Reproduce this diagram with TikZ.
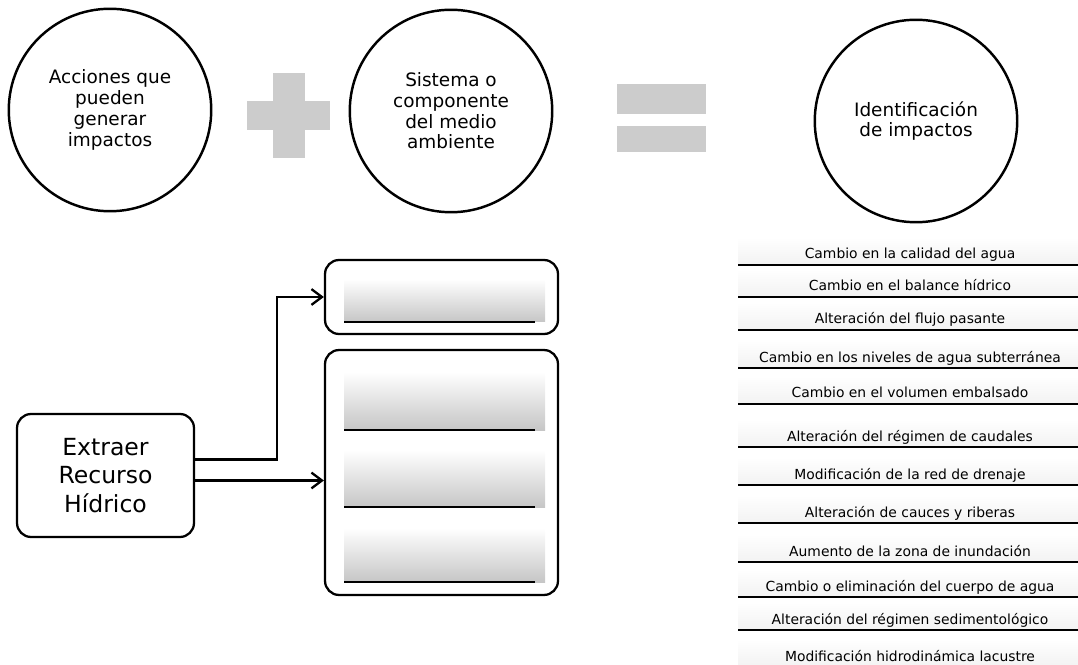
\documentclass[tikz,border=0pt]{standalone}
\usepackage{fontspec}
\setmainfont{DejaVu Sans}
\usetikzlibrary{positioning,arrows.meta}
\tikzset{
  circulo/.style={draw, circle, line width=1.4pt, minimum size=4.05cm, inner sep=0pt,
    align=center, font=\fontsize{10.5}{11.8}\selectfont},
  caja/.style={draw, rounded corners=8pt, line width=1.3pt},
  flecha/.style={-{Straight Barb[length=6pt,width=9pt]}, line width=1.3pt},
  franja/.style={top color=white, bottom color=gray!45, draw=none},
  fila/.style={top color=white, bottom color=gray!10, draw=none}
}
\begin{document}
\begin{tikzpicture}[x=0.02cm, y=-0.02cm]
    \useasboundingbox (0,0) rectangle (1078,665);
    % Circulos de la ecuacion
    \node[circulo] (acciones) at (110,110) {Acciones que\\pueden\\generar\\impactos};
    \node[circulo] (sistema) at (451,111) {Sistema o\\componente\\del medio\\ambiente};
    \node[circulo] (ident) at (916,121) {Identificación\\de impactos};
    % Signo mas
    \fill[gray!40] (273,73) rectangle (305,158);
    \fill[gray!40] (247,101) rectangle (330,130);
    % Signo igual
    \fill[gray!40] (617,84) rectangle (706,114);
    \fill[gray!40] (617,126) rectangle (706,152);
    % Accion
    \node[caja, minimum width=3.54cm, minimum height=2.46cm, align=center,
      font=\fontsize{13.4}{16.4}\selectfont] (extraer) at (105.5,475.5) {Extraer\\Recurso\\Hídrico};
    % Cajas de componentes
    \node[caja, minimum width=4.66cm, minimum height=1.48cm] (agua) at (441.5,297) {};
    \node[caja, minimum width=4.66cm, minimum height=4.9cm] (cuerpo) at (441.5,472.5) {};
    % Franjas dentro de las cajas
    \foreach \ya/\yb in {279/322, 372/430, 450/507, 528/582}{
        \shade[franja] (344,\ya) rectangle (545,\yb);
        \draw[line width=1.3pt] (344,\yb) -- (535,\yb);
    }
    % Conectores
    \draw[flecha] ([yshift=0.32cm]extraer.east) -- ++(82,0) |- (agua.west);
    \draw[flecha] ([yshift=-0.1cm]extraer.east) -- ([yshift=-0.1cm]extraer.east -| cuerpo.west);
    % Lista de impactos
    \foreach \y/\txt [count=\i] in {
        265/Cambio en la calidad del agua,
        297/Cambio en el balance hídrico,
        330/Alteración del flujo pasante,
        368/Cambio en los niveles de agua subterránea,
        404/Cambio en el volumen embalsado,
        447/Alteración del régimen de caudales,
        485/Modificación de la red de drenaje,
        523/Alteración de cauces y riberas,
        562/Aumento de la zona de inundación,
        597/Cambio o eliminación del cuerpo de agua,
        630/Alteración del régimen sedimentológico,
        667/Modificación hidrodinámica lacustre}{
        \shade[fila] (738,\y-28) rectangle (1078,\y);
        \node[anchor=base, font=\fontsize{7.9}{9}\selectfont, inner sep=0pt] (imp\i) at (910,\y-6) {\txt};
        \ifnum\i<12 \draw[line width=1.1pt] (738,\y) -- (1078,\y); \fi
    }
\end{tikzpicture}
\end{document}
